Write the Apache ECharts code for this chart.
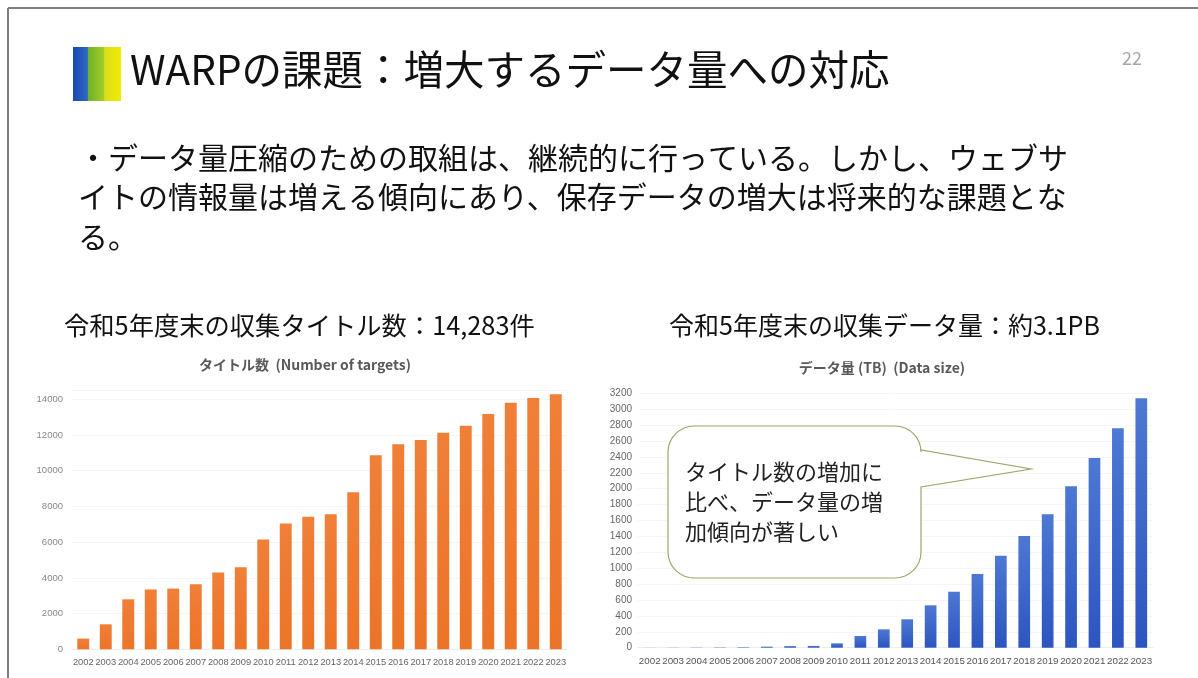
<!DOCTYPE html>
<html>
<head>
<meta charset="utf-8">
<script src="https://cdn.jsdelivr.net/npm/echarts@6/dist/echarts.min.js"></script>
<style>
html,body{margin:0;padding:0;background:#fff;}
#c{width:1198px;height:678px;}
</style>
</head>
<body>
<div id="c"></div>
<script>
// ---- data ----
const years = ['2002','2003','2004','2005','2006','2007','2008','2009','2010','2011','2012','2013','2014','2015','2016','2017','2018','2019','2020','2021','2022','2023'];
const titleCounts = [600,1400,2800,3350,3400,3650,4300,4600,6150,7050,7430,7560,8800,10870,11480,11720,12130,12520,13180,13810,14070,14283];
const dataSizeTB = [1,2,3,4,6,13,20,22,55,147,231,357,533,704,927,1157,1405,1678,2030,2386,2760,3137];
const leftTicksMax = 14500, leftInterval = 2000;
const rightTicksMax = 3200, rightInterval = 200;

const slideTitle = 'WARPの課題：増大するデータ量への対応';
const bodyLines = ['・データ量圧縮のための取組は、継続的に行っている。しかし、ウェブサ',
                   'イトの情報量は増える傾向にあり、保存データの増大は将来的な課題とな',
                   'る。'];
const headLeft = '令和5年度末の収集タイトル数：14,283件';
const headRight = '令和5年度末の収集データ量：約3.1PB';
const chartTitleLeft = 'タイトル数  (Number of targets)';
const chartTitleRight = 'データ量 (TB)  (Data size)';
const calloutLines = ['タイトル数の増加に','比べ、データ量の増','加傾向が著しい'];
const pageNo = '22';

const FONT = '"Noto Sans CJK JP","Noto Sans",sans-serif';
const chart = echarts.init(document.getElementById('c'));

function txt(text, x, y, size, color, weight, align){
  return {type:'text', x:x, y:y, z:10, style:{text:text, font:(weight||'normal')+' '+size+'px '+FONT, fill:color, textAlign:align||'left', textVerticalAlign:'middle'}};
}

// callout outline (rounded box with a pointer)
function arcPts(cx, cy, r, a0, a1){
  const pts = [];
  for (let i = 0; i <= 8; i++){ const a = a0 + (a1 - a0) * i / 8; pts.push([cx + r*Math.cos(a), cy + r*Math.sin(a)]); }
  return pts;
}
const bx0 = 668, by0 = 426, bx1 = 921, by1 = 578, br = 26;
let calloutPts = [];
calloutPts = calloutPts.concat(arcPts(bx0+br, by0+br, br, Math.PI, 1.5*Math.PI));
calloutPts = calloutPts.concat(arcPts(bx1-br, by0+br, br, 1.5*Math.PI, 2*Math.PI));
calloutPts.push([bx1, 450], [1031, 469], [bx1, 487]);
calloutPts = calloutPts.concat(arcPts(bx1-br, by1-br, br, 0, 0.5*Math.PI));
calloutPts = calloutPts.concat(arcPts(bx0+br, by1-br, br, 0.5*Math.PI, Math.PI));

const graphics = [
  {type:'line', shape:{x1:8,y1:8,x2:1198,y2:8}, style:{stroke:'#7f7f7f',lineWidth:2}},
  {type:'line', shape:{x1:8,y1:8,x2:8,y2:678}, style:{stroke:'#7f7f7f',lineWidth:2}},
  {type:'rect', shape:{x:73,y:47,width:48,height:54}, style:{fill:new echarts.graphic.LinearGradient(0,0,1,0,[
    {offset:0,color:'#1c47b0'},{offset:0.30,color:'#2d68c2'},{offset:0.32,color:'#6db32c'},
    {offset:0.64,color:'#a6cc24'},{offset:0.66,color:'#d7df1c'},{offset:1,color:'#f3ec00'}])}},
  txt(slideTitle, 130, 70, 40.5, '#111'),
  txt(pageNo, 1132, 58, 18, '#a6a6a6', 'normal', 'center'),
  txt(bodyLines[0], 78, 158, 30, '#111'),
  txt(bodyLines[1], 78, 197, 30, '#111'),
  txt(bodyLines[2], 78, 237, 30, '#111'),
  txt(headLeft, 64, 325, 25.3, '#111'),
  txt(headRight, 669, 325, 25, '#111'),
  txt(chartTitleLeft, 305, 365, 14, '#595959', 'bold', 'center'),
  txt(chartTitleRight, 882, 368, 14, '#595959', 'bold', 'center'),
  {type:'polygon', z:20, shape:{points:calloutPts}, style:{fill:'#fff', stroke:'#a3a56a', lineWidth:1.2}}
];
calloutLines.forEach((l,i)=>{ const t = txt(l, 685, 472+i*30, 22, '#222'); t.z = 21; graphics.push(t); });

const numFont = '"Liberation Sans","Noto Sans",sans-serif';
const plain = v => String(v);

const orange = {type:'linear', x:0, y:0, x2:0, y2:1, colorStops:[{offset:0,color:'#f07f38'},{offset:1,color:'#ec7428'}]};
const blue = {type:'linear', x:0, y:0, x2:0, y2:1, colorStops:[{offset:0,color:'#4d78d3'},{offset:1,color:'#2c55c0'}]};

chart.setOption({
  animation:false,
  backgroundColor:'#fff',
  grid:[
    {left:72, top:390.4, width:495, height:258.9},
    {left:638, top:393.3, width:515, height:254.4}
  ],
  xAxis:[
    {type:'category', gridIndex:0, data:years, axisTick:{show:false}, axisLine:{lineStyle:{color:'#ececec'}},
      axisLabel:{interval:0, fontSize:9.3, color:'#666', fontFamily:numFont, margin:9}},
    {type:'category', gridIndex:1, data:years, axisTick:{show:false}, axisLine:{lineStyle:{color:'#ececec'}},
      axisLabel:{interval:0, fontSize:9.8, color:'#555', fontFamily:numFont, margin:9}}
  ],
  yAxis:[
    {type:'value', gridIndex:0, min:0, max:leftTicksMax, interval:leftInterval, axisLine:{show:false}, axisTick:{show:false},
      splitLine:{lineStyle:{color:'#f5f5f5'}},
      axisLabel:{showMaxLabel:false, margin:9, fontSize:9.5, color:'#888', fontFamily:numFont, formatter:plain}},
    {type:'value', gridIndex:1, min:0, max:rightTicksMax, interval:rightInterval, axisLine:{show:false}, axisTick:{show:false},
      splitLine:{lineStyle:{color:'#f6f6f6'}},
      axisLabel:{margin:6, fontSize:10, color:'#666', fontFamily:numFont, formatter:plain}}
  ],
  series:[
    {type:'bar', xAxisIndex:0, yAxisIndex:0, data:titleCounts, barWidth:'53%', itemStyle:{color:orange}},
    {type:'bar', xAxisIndex:1, yAxisIndex:1, data:dataSizeTB, barWidth:'50%', itemStyle:{color:blue}}
  ],
  graphic:graphics
});
</script>
</body>
</html>
